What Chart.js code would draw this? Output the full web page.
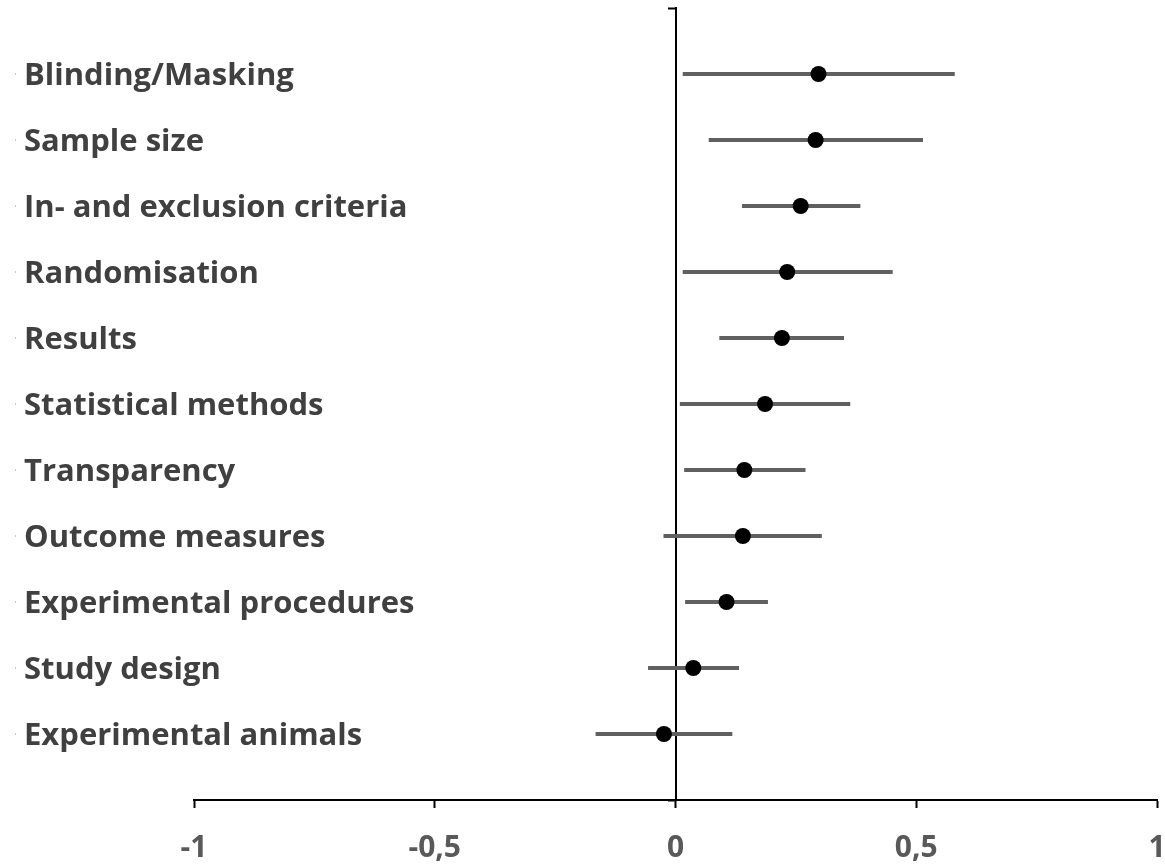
<!DOCTYPE html>
<html>
<head>
<meta charset="utf-8">
<script src="https://cdn.jsdelivr.net/npm/chart.js@4"></script>
<style>
  html, body { margin: 0; padding: 0; background: #ffffff; }
  #wrap { width: 1165px; height: 867px; position: relative; }
</style>
</head>
<body>
<div id="wrap"><canvas id="c"></canvas></div>
<script>
const categories = ['Blinding/Masking', 'Sample size', 'In- and exclusion criteria', 'Randomisation', 'Results', 'Statistical methods', 'Transparency', 'Outcome measures', 'Experimental procedures', 'Study design', 'Experimental animals'];
const estimates = [0.297, 0.291, 0.260, 0.232, 0.221, 0.186, 0.143, 0.140, 0.106, 0.037, -0.024];
const lowerCI  = [0.015, 0.069, 0.138, 0.015, 0.091, 0.009, 0.018, -0.025, 0.020, -0.057, -0.166];
const upperCI  = [0.580, 0.514, 0.384, 0.451, 0.350, 0.363, 0.270, 0.304, 0.192, 0.132, 0.118];
const rowPositions = [11, 10, 9, 8, 7, 6, 5, 4, 3, 2, 1];
const xTickValues = [-1, -0.5, 0, 0.5, 1];
const xTickLabels = ['-1', '-0,5', '0', '0,5', '1'];

const FONT = '"Open Sans", "Liberation Sans", sans-serif';

const ciData = [];
categories.forEach((c, i) => {
  ciData.push({ x: lowerCI[i], y: rowPositions[i] });
  ciData.push({ x: upperCI[i], y: rowPositions[i] });
  ciData.push({ x: null, y: null });
});
const pointData = categories.map((c, i) => ({ x: estimates[i], y: rowPositions[i] }));

const labelPlugin = {
  id: 'rowLabels',
  afterDatasetsDraw(chart) {
    const ctx = chart.ctx;
    const ys = chart.scales.y;
    const left = chart.chartArea.left - 170;
    ctx.save();
    ctx.font = 'bold 31px ' + FONT;
    ctx.textAlign = 'left';
    ctx.textBaseline = 'middle';
    categories.forEach((c, i) => {
      const y = ys.getPixelForValue(rowPositions[i]);
      ctx.fillStyle = '#404040';
      ctx.fillText(c, left, y + 2);
      ctx.fillStyle = '#c8c8c8';
      ctx.fillRect(left - 9, y - 1, 1, 2);
    });
    ctx.restore();
  }
};

new Chart(document.getElementById('c'), {
  type: 'scatter',
  data: {
    datasets: [
      {
        label: 'Estimate',
        data: pointData,
        pointRadius: 8,
        pointHoverRadius: 8,
        backgroundColor: '#000000',
        borderColor: '#000000',
        borderWidth: 0,
        showLine: false,
        order: 0
      },
      {
        label: 'CI',
        data: ciData,
        showLine: true,
        spanGaps: false,
        pointRadius: 0,
        pointHoverRadius: 0,
        borderColor: '#606060',
        borderWidth: 4,
        borderCapStyle: 'butt',
        order: 1
      }
    ]
  },
  options: {
    responsive: true,
    maintainAspectRatio: false,
    animation: false,
    events: [],
    layout: { padding: { left: 194, right: 8, top: 8, bottom: 0 } },
    plugins: {
      legend: { display: false },
      tooltip: { enabled: false },
      title: { display: false }
    },
    scales: {
      x: {
        type: 'linear',
        min: -1,
        max: 1,
        afterBuildTicks(scale) {
          scale.ticks = xTickValues.map(v => ({ value: v }));
        },
        afterFit(scale) {
          scale.height = 67;
          scale.paddingLeft = 0;
          scale.paddingRight = 0;
        },
        grid: {
          drawOnChartArea: false,
          drawTicks: true,
          tickLength: 8,
          tickColor: '#000000',
          tickWidth: 2
        },
        border: { display: true, color: '#000000', width: 2 },
        ticks: {
          padding: 22,
          color: '#595959',
          font: { family: FONT, size: 30, weight: 'bold' },
          maxRotation: 0,
          autoSkip: false,
          callback(value) {
            const idx = xTickValues.indexOf(value);
            return idx >= 0 ? xTickLabels[idx] : '';
          }
        }
      },
      y: {
        type: 'linear',
        position: { x: 0 },
        min: 0,
        max: 12,
        afterBuildTicks(scale) {
          scale.ticks = [{ value: 0 }, { value: 12 }];
        },
        grid: {
          drawOnChartArea: false,
          drawTicks: true,
          tickLength: 7,
          tickColor: '#000000',
          tickWidth: 2
        },
        border: { display: true, color: '#000000', width: 2 },
        ticks: { display: false }
      }
    }
  },
  plugins: [labelPlugin]
});
</script>
</body>
</html>
